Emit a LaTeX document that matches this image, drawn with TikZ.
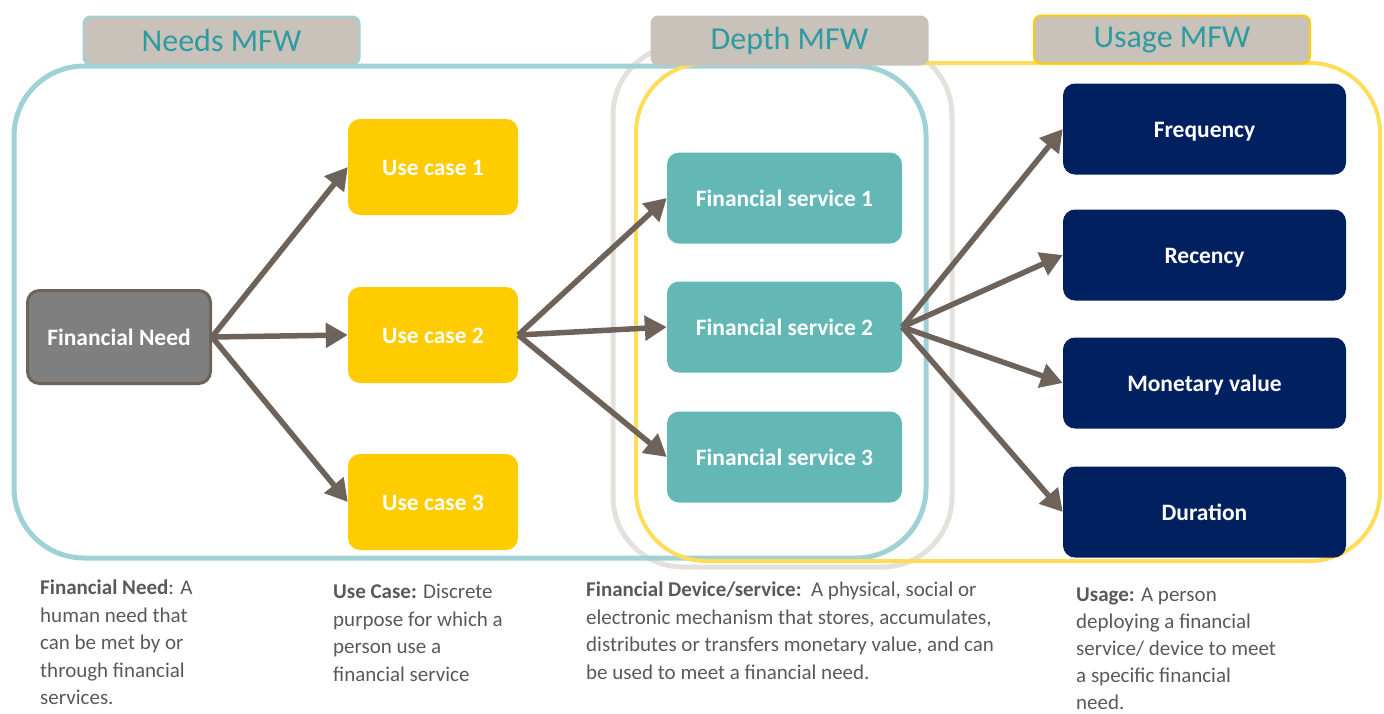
\documentclass[tikz,border=0pt]{standalone}
\usepackage{fontspec}
\setmainfont{Carlito}
\usetikzlibrary{arrows.meta}

\definecolor{needteal}{HTML}{A0D2D5}
\definecolor{depthgray}{HTML}{E4E0DC}
\definecolor{usageyellow}{HTML}{FFDC5A}
\definecolor{tabfill}{HTML}{C9C2BB}
\definecolor{tabtext}{HTML}{2E9BA0}
\definecolor{needfill}{HTML}{7F7F7F}
\definecolor{arrowgray}{HTML}{6E635A}
\definecolor{casefill}{HTML}{FFCC00}
\definecolor{servfill}{HTML}{63B8B6}
\definecolor{usagenavy}{HTML}{002060}
\definecolor{descgray}{HTML}{595959}

\begin{document}
\begin{tikzpicture}[x=1pt,y=-1pt,
    box/.style={rounded corners=12pt, text=white, inner sep=0pt, text height=18pt, text depth=2pt, font=\bfseries\fontsize{23.5}{26}\selectfont},
    needbox/.style={box, fill=needfill, draw=arrowgray, line width=3pt, minimum width=183pt, minimum height=93pt},
    casebox/.style={box, fill=casefill, minimum width=170pt, minimum height=96pt},
    servbox/.style={box, fill=servfill, minimum width=235pt, minimum height=91pt},
    usagebox/.style={box, fill=usagenavy, minimum width=283pt, minimum height=91pt},
    tab/.style={fill=tabfill, line width=2pt, rounded corners=7pt, minimum width=276pt, minimum height=48pt, text=tabtext, font=\fontsize{32}{34}\selectfont},
    arr/.style={draw=arrowgray, line width=5.5pt, -{Triangle[length=22pt,width=24pt]}},
    desc/.style={anchor=north west, align=left, inner sep=0pt, text=descgray, font=\fontsize{21}{27.5}\selectfont}]
    \useasboundingbox (0,0) rectangle (1384,713);

    % the three frames
    \draw[depthgray, line width=5pt, rounded corners=70pt] (613,45) rectangle (952,567);
    \draw[needteal, line width=5pt, rounded corners=70pt] (14,66) rectangle (926,558);
    \draw[usageyellow, line width=4pt, rounded corners=70pt] (636,63) rectangle (1380,561);

    \node[tab, draw=needteal] (needtab) at (221.5,40.5) {Needs MFW};
    \node[tab, draw=tabfill] (depthtab) at (789.5,40.5) {Depth MFW};
    \node[tab, draw=casefill] (usagetab) at (1172,39.5) {Usage MFW};

    \node[needbox] (need) at (119,337) {Financial Need};

    \node[casebox] (uc1) at (433,167) {Use case 1};
    \node[casebox] (uc2) at (433,335) {Use case 2};
    \node[casebox] (uc3) at (433,502) {Use case 3};

    \node[servbox] (fs1) at (784.5,198) {Financial service 1};
    \node[servbox] (fs2) at (784.5,327) {Financial service 2};
    \node[servbox] (fs3) at (784.5,457) {Financial service 3};

    \node[usagebox] (freq) at (1204.5,129) {Frequency};
    \node[usagebox] (rec) at (1204.5,255) {Recency};
    \node[usagebox] (mon) at (1204.5,383) {Monetary value};
    \node[usagebox] (dur) at (1204.5,512) {Duration};

    \draw[arr] (need.east) -- (uc1.west); \draw[arr] (need.east) -- (uc2.west); \draw[arr] (need.east) -- (uc3.west);
    \draw[arr] (uc2.east) -- (fs1.west); \draw[arr] (uc2.east) -- (fs2.west); \draw[arr] (uc2.east) -- (fs3.west);
    \draw[arr] (fs2.east) -- (freq.west); \draw[arr] (fs2.east) -- (rec.west);
    \draw[arr] (fs2.east) -- (mon.west); \draw[arr] (fs2.east) -- (dur.west);

    % definitions under the frames
    \node[desc] (needtxt) at (40,580) {\textbf{Financial Need}: A\\human need that\\can be met by or\\through financial\\services.};
    \node[desc] (casetxt) at (333,584) {\textbf{Use Case:} Discrete\\purpose for which a\\person use a\\financial service};
    \node[desc] (servtxt) at (586,582) {\textbf{Financial Device/service:}\ \ A physical, social or\\electronic mechanism that stores, accumulates,\\distributes or transfers monetary value, and can\\be used to meet a financial need.};
    \node[desc, font=\fontsize{21}{26.8}\selectfont] (usagetxt) at (1076,588) {\textbf{Usage:} A person\\deploying a financial\\service/ device to meet\\a specific financial\\need.};
\end{tikzpicture}
\end{document}
